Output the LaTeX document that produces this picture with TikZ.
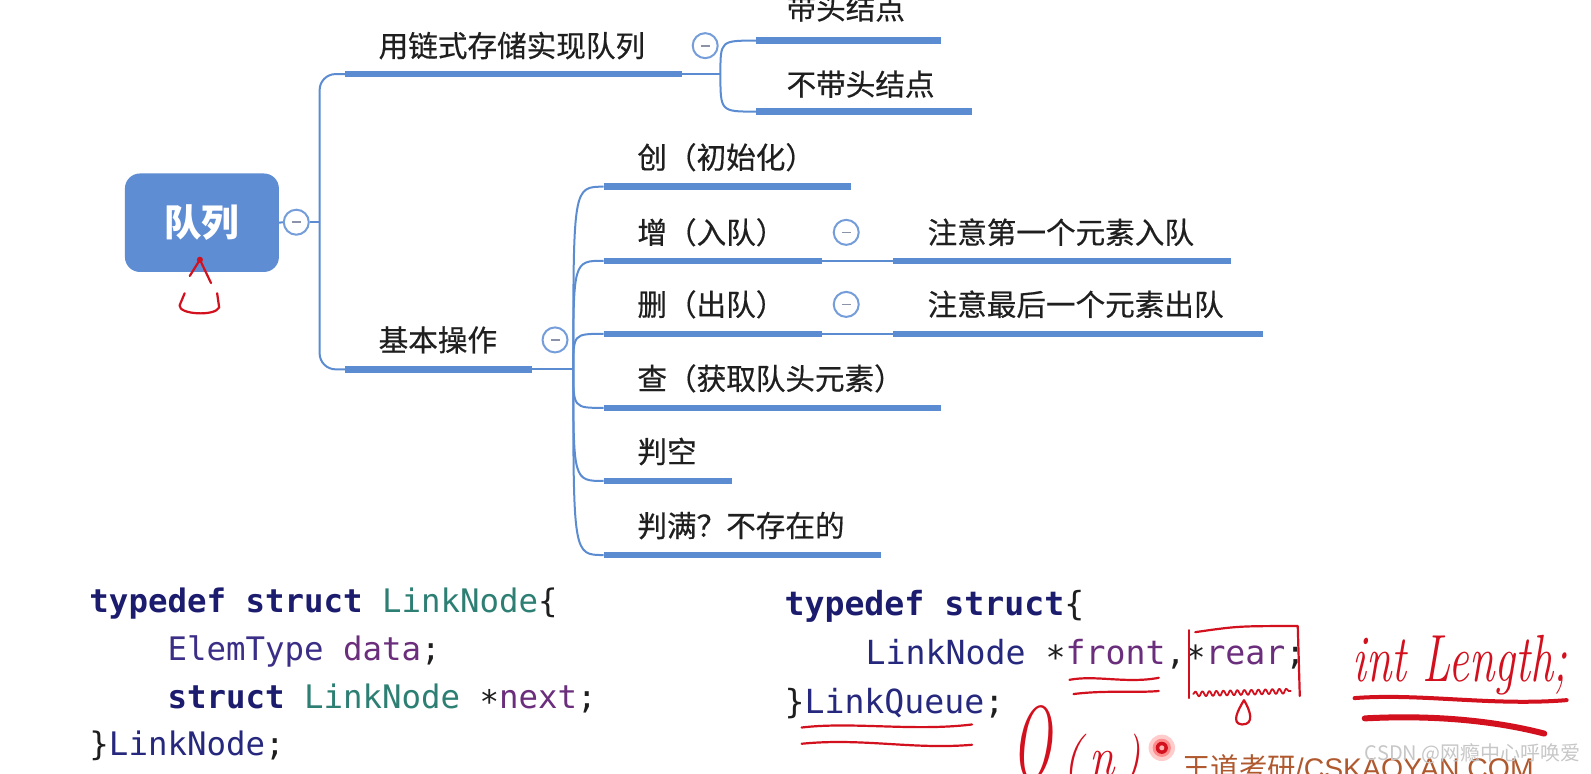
\documentclass[tikz,border=0pt]{standalone}
\usepackage{fontspec}
\setmonofont{DejaVu Sans Mono}
\newfontfamily\cjk{Noto Sans CJK SC}
\newfontfamily\cjkm{Noto Sans CJK SC}[FakeBold=0.5]
\newfontfamily\wmfont{Liberation Sans}
\usetikzlibrary{decorations.pathmorphing}
\newcommand\myfs[1]{\fontsize{#1pt}{#1pt}\selectfont}
\definecolor{mmblue}{HTML}{5B8CD2}
\definecolor{rootblue}{HTML}{5E8DD3}
\definecolor{minusc}{HTML}{8C93A8}
\definecolor{kwc}{HTML}{1C1C6E}
\definecolor{tyc}{HTML}{2D7F74}
\definecolor{etc}{HTML}{3B2E86}
\definecolor{varc}{HTML}{6B2E7C}
\definecolor{navyc}{HTML}{26287E}
\definecolor{punc}{HTML}{1E1E1E}
\definecolor{penred}{HTML}{D2101E}
\definecolor{wmorange}{HTML}{B0582E}
\newcommand\KW[1]{{\bfseries\color{kwc}#1}}
\newcommand\TY[1]{{\color{tyc}#1}}
\newcommand\ET[1]{{\color{etc}#1}}
\newcommand\VA[1]{{\color{varc}#1}}
\newcommand\NV[1]{{\color{navyc}#1}}
\newcommand\ST{\raisebox{-0.15em}{*}}
\tikzset{
  thinline/.style={draw=mmblue, line width=2pt},
  barline/.style={draw=mmblue, line width=6.5pt},
  mtext/.style={inner sep=0pt, anchor=west, font=\cjkm\myfs{29.6}, text=black!88, text height=25.9pt, text depth=3.5pt},
  collapse/.style={circle, draw=mmblue!85, line width=2pt, fill=white, minimum size=25pt, inner sep=0pt,
    path picture={\draw[minusc, line width=1.7pt] ([xshift=-4.5pt]path picture bounding box.center) -- ([xshift=4.5pt]path picture bounding box.center);}},
  rootbox/.style={rectangle, rounded corners=15pt, fill=rootblue, minimum width=154pt, minimum height=98.5pt, inner sep=0pt, text=white, font=\cjk\bfseries\myfs{37.5}},
  codeL/.style={inner sep=0pt, anchor=base west, text=punc, font=\ttfamily\myfs{32.4}},
  codeR/.style={inner sep=0pt, anchor=base west, text=punc, font=\ttfamily\myfs{33.2}},
  redpen/.style={draw=penred, line width=2.2pt, line cap=round, line join=round},
}
\begin{document}
\begin{tikzpicture}[x=1.0147pt, y=-1.0147pt]
\useasboundingbox (0,0) rectangle (1568,762);
\clip (0,0) rectangle (1568,762);
\fill[white] (0,0) rectangle (1568,762);

% ---------- mind map ----------
\node[rootbox] (root) at (199,219.5) {队列};
\node[collapse] (c0) at (292,219) {};
\coordinate (t0) at (315,219);

\coordinate (As) at (340,73);  \coordinate (Ae) at (672,73);  \coordinate (fA) at (710,73);
\coordinate (A1s) at (745,40); \coordinate (A1e) at (927,40);
\coordinate (A2s) at (745,110); \coordinate (A2e) at (958,110);
\coordinate (Bs) at (340,364); \coordinate (Be) at (524,364); \coordinate (fB) at (565,364);
\coordinate (B1s) at (595,184); \coordinate (B1e) at (839,184);
\coordinate (B2s) at (595,257); \coordinate (B2e) at (810,257);
\coordinate (B3s) at (595,329); \coordinate (B3e) at (810,329);
\coordinate (B4s) at (595,402); \coordinate (B4e) at (927,402);
\coordinate (B5s) at (595,474); \coordinate (B5e) at (721,474);
\coordinate (B6s) at (595,547); \coordinate (B6e) at (868,547);
\coordinate (B2xs) at (880,257); \coordinate (B2xe) at (1213,257);
\coordinate (B3xs) at (880,329); \coordinate (B3xe) at (1245,329);

\draw[thinline] (root.east) -- (c0.west);
\draw[thinline] (c0.east) -- (t0);
\draw[thinline, rounded corners=16pt] (t0) |- (As);
\draw[thinline, rounded corners=16pt] (t0) |- (Bs);

\draw[barline] (As) -- (Ae);
\draw[thinline] (Ae) -- (fA);
\draw[thinline] (fA) .. controls (fA |- A1s) .. (A1s);
\draw[thinline] (fA) .. controls (fA |- A2s) .. (A2s);
\draw[barline] (A1s) -- (A1e);
\draw[barline] (A2s) -- (A2e);

\draw[barline] (Bs) -- (Be);
\draw[thinline] (Be) -- (fB);
\foreach \k in {B1s,B2s,B3s,B4s,B5s,B6s}
  \draw[thinline] (fB) .. controls (fB |- \k) .. (\k);
\draw[barline] (B1s) -- (B1e);
\draw[barline] (B2s) -- (B2e);
\draw[barline] (B3s) -- (B3e);
\draw[barline] (B4s) -- (B4e);
\draw[barline] (B5s) -- (B5e);
\draw[barline] (B6s) -- (B6e);
\draw[thinline] (B2e) -- (B2xs);
\draw[thinline] (B3e) -- (B3xs);
\draw[barline] (B2xs) -- (B2xe);
\draw[barline] (B3xs) -- (B3xe);

\node[collapse] (c1) at (695,45) {};
\node[collapse] (c2) at (547,335) {};
\node[collapse] (c3) at (834,229) {};
\node[collapse] (c4) at (834,300) {};

\node[mtext] (tA)  at (373,45)  {用链式存储实现队列};
\node[mtext] (tA1) at (775,8)   {带头结点};
\node[mtext] (tA2) at (775,83)  {不带头结点};
\node[mtext] (tB)  at (373,335) {基本操作};
\node[mtext] (tB1) at (628,155) {创（初始化）};
\node[mtext] (tB2) at (628,229) {增（入队）};
\node[mtext] (tB3) at (628,300) {删（出队）};
\node[mtext] (tB4) at (628,373) {查（获取队头元素）};
\node[mtext] (tB5) at (628,445) {判空};
\node[mtext] (tB6) at (628,518) {判满？不存在的};
\node[mtext] (tB2x) at (914,229) {注意第一个元素入队};
\node[mtext] (tB3x) at (914,300) {注意最后一个元素出队};

% ---------- code ----------
\node[codeL] (l1) at (88,604)  {\KW{typedef} \KW{struct} \TY{LinkNode}\{};
\node[codeL] (l2) at (165,651) {\ET{ElemType} \VA{data};};
\node[codeL] (l3) at (165,698) {\KW{struct} \TY{LinkNode} \ST\VA{next};};
\node[codeL] (l4) at (88,745)  {\}\NV{LinkNode};};

\node[codeR] (r1) at (773,607) {\KW{typedef} \KW{struct}\{};
\node[codeR] (r2) at (853,655) {\NV{LinkNode} \ST\VA{front},\ST\VA{rear};};
\node[codeR] (r3) at (773,703) {\}\NV{LinkQueue};};

% ---------- red annotations ----------
\fill[penred] (197,256) circle (3);
\draw[redpen] (197,256) -- (187,272);
\draw[redpen] (182,289) -- (177,301) .. controls (176,310) and (212,312) .. (216,303) -- (214,289);
\draw[redpen] (208,279) -- (198,258);

\draw[redpen] (1054,670) .. controls (1080,665) and (1110,674) .. (1142,668);
\draw[redpen] (1058,684) .. controls (1090,680) and (1120,683) .. (1142,681);

\draw[redpen] (1172,621) -- (1172,688);
\draw[redpen] (1178,623) .. controls (1220,617) .. (1279,617) -- (1281,686);
\draw[redpen, line width=1.8pt, decorate, decoration={snake, amplitude=2.5pt, segment length=7pt}] (1176,684) -- (1272,681);
\draw[redpen] (1226,690) .. controls (1220,700) and (1213,713) .. (1224,714) .. controls (1237,714) and (1232,700) .. (1226,690);

\node[inner sep=0pt, anchor=base west, text=penred, font=\itshape\myfs{46}] (hw) at (1333,672) {\scalebox{1}[1.45]{int Length;}};
\draw[redpen, line width=4pt] (1335,688) .. controls (1400,683) and (1470,696) .. (1544,690);
\draw[redpen, line width=6pt] (1345,708) .. controls (1420,704) and (1480,712) .. (1522,723);

\draw[redpen] (790,717) .. controls (840,711) and (900,721) .. (958,714);
\draw[redpen] (790,733) .. controls (850,727) and (900,739) .. (958,734);

\node[inner sep=0pt, anchor=base west, text=penred, font=\itshape\myfs{70}] (bigO) at (998,768) {\scalebox{0.75}[1.5]{O}};
\node[inner sep=0pt, anchor=base west, text=penred, font=\itshape\myfs{46}] (bigN) at (1048,764) {\scalebox{1}[1.2]{(\,n\,)}};

\fill[red!20] (1145,737) circle (13);
\fill[red!45] (1145,737) circle (9);
\fill[penred] (1145,737) circle (6);
\fill[red!30] (1145,737) circle (2.5);

% ---------- watermarks ----------
\node[inner sep=0pt, anchor=base west, text=wmorange] (wm1) at (1165,767)
  {{\cjk\myfs{28.4}王道考研}{\wmfont\myfs{28.4}/CSKAOYAN.COM}};
\node[inner sep=0pt, anchor=west, text=black!22, font=\cjk\myfs{20}] (wm2) at (1345,743) {CSDN @网瘾中心呼唤爱};
\end{tikzpicture}
\end{document}
